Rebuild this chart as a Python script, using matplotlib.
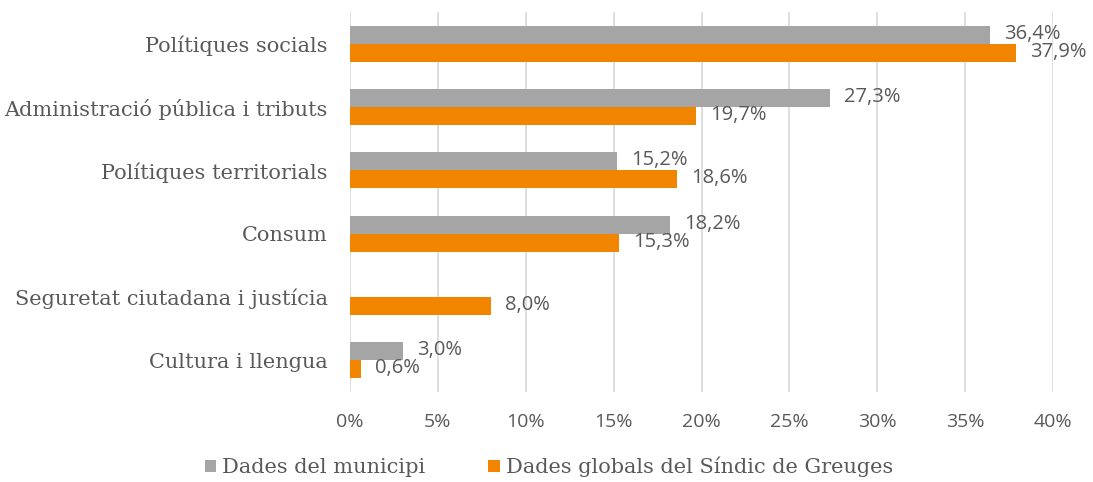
import matplotlib.pyplot as plt
import numpy as np

# data
categories = ["Polítiques socials", "Administració pública i tributs",
              "Polítiques territorials", "Consum",
              "Seguretat ciutadana i justícia", "Cultura i llengua"]
municipi = [36.4, 27.3, 15.2, 18.2, None, 3.0]
global_sindic = [37.9, 19.7, 18.6, 15.3, 8.0, 0.6]
series_names = ["Dades del municipi", "Dades globals del Síndic de Greuges"]
xticks = [0, 5, 10, 15, 20, 25, 30, 35, 40]

grey = "#A5A5A5"
orange = "#F28500"
txt = "#595959"
serif = ["DejaVu Serif"]
sans = ["Open Sans", "DejaVu Sans"]

fig = plt.figure(figsize=(10.93, 4.82), dpi=100)
ax = fig.add_axes([350 / 1093, 1 - 392 / 482, (1053 - 350) / 1093, (392 - 12) / 482])

y = np.arange(len(categories))
h = 0.285
m_vals = [v if v is not None else 0 for v in municipi]
b1 = ax.barh(y - h / 2, m_vals, height=h, color=grey, label=series_names[0], zorder=3)
b2 = ax.barh(y + h / 2, global_sindic, height=h, color=orange, label=series_names[1], zorder=3)

lab_kw = dict(textcoords="offset pixels", va="center", ha="left", fontsize=14.5,
              color=txt, family=sans, fontstretch="normal")
for yy, v in zip(y, municipi):
    if v is not None:
        ax.annotate(f"{v:.1f}%".replace(".", ","), (v, yy - h / 2), xytext=(14, 1), **lab_kw)
for yy, v in zip(y, global_sindic):
    ax.annotate(f"{v:.1f}%".replace(".", ","), (v, yy + h / 2), xytext=(14, 1), **lab_kw)

ax.set_xlim(0, 40)
ax.set_ylim(len(categories) - 0.5, -0.5)
ax.set_xticks(xticks)
ax.set_xticklabels([f"{t}%" for t in xticks], family=sans, fontsize=14, color=txt,
                   fontstretch="normal")
ax.set_yticks(y)
ax.set_yticklabels(categories, family=serif, fontsize=15, color=txt)
ax.tick_params(length=0, pad=16)
ax.tick_params(axis="x", pad=15)
ax.grid(axis="x", color="#D9D9D9", linewidth=1.2, zorder=0)
for s in ax.spines.values():
    s.set_visible(False)

fig.legend(handles=[b1, b2], labels=series_names, loc="center", ncol=2,
           bbox_to_anchor=(549 / 1093, 1 - 467 / 482), frameon=False,
           prop={"family": serif, "size": 15}, labelcolor=txt,
           handlelength=0.55, handleheight=0.55, handletextpad=0.3, columnspacing=3.0)

fig.savefig("out.png", dpi=100)
